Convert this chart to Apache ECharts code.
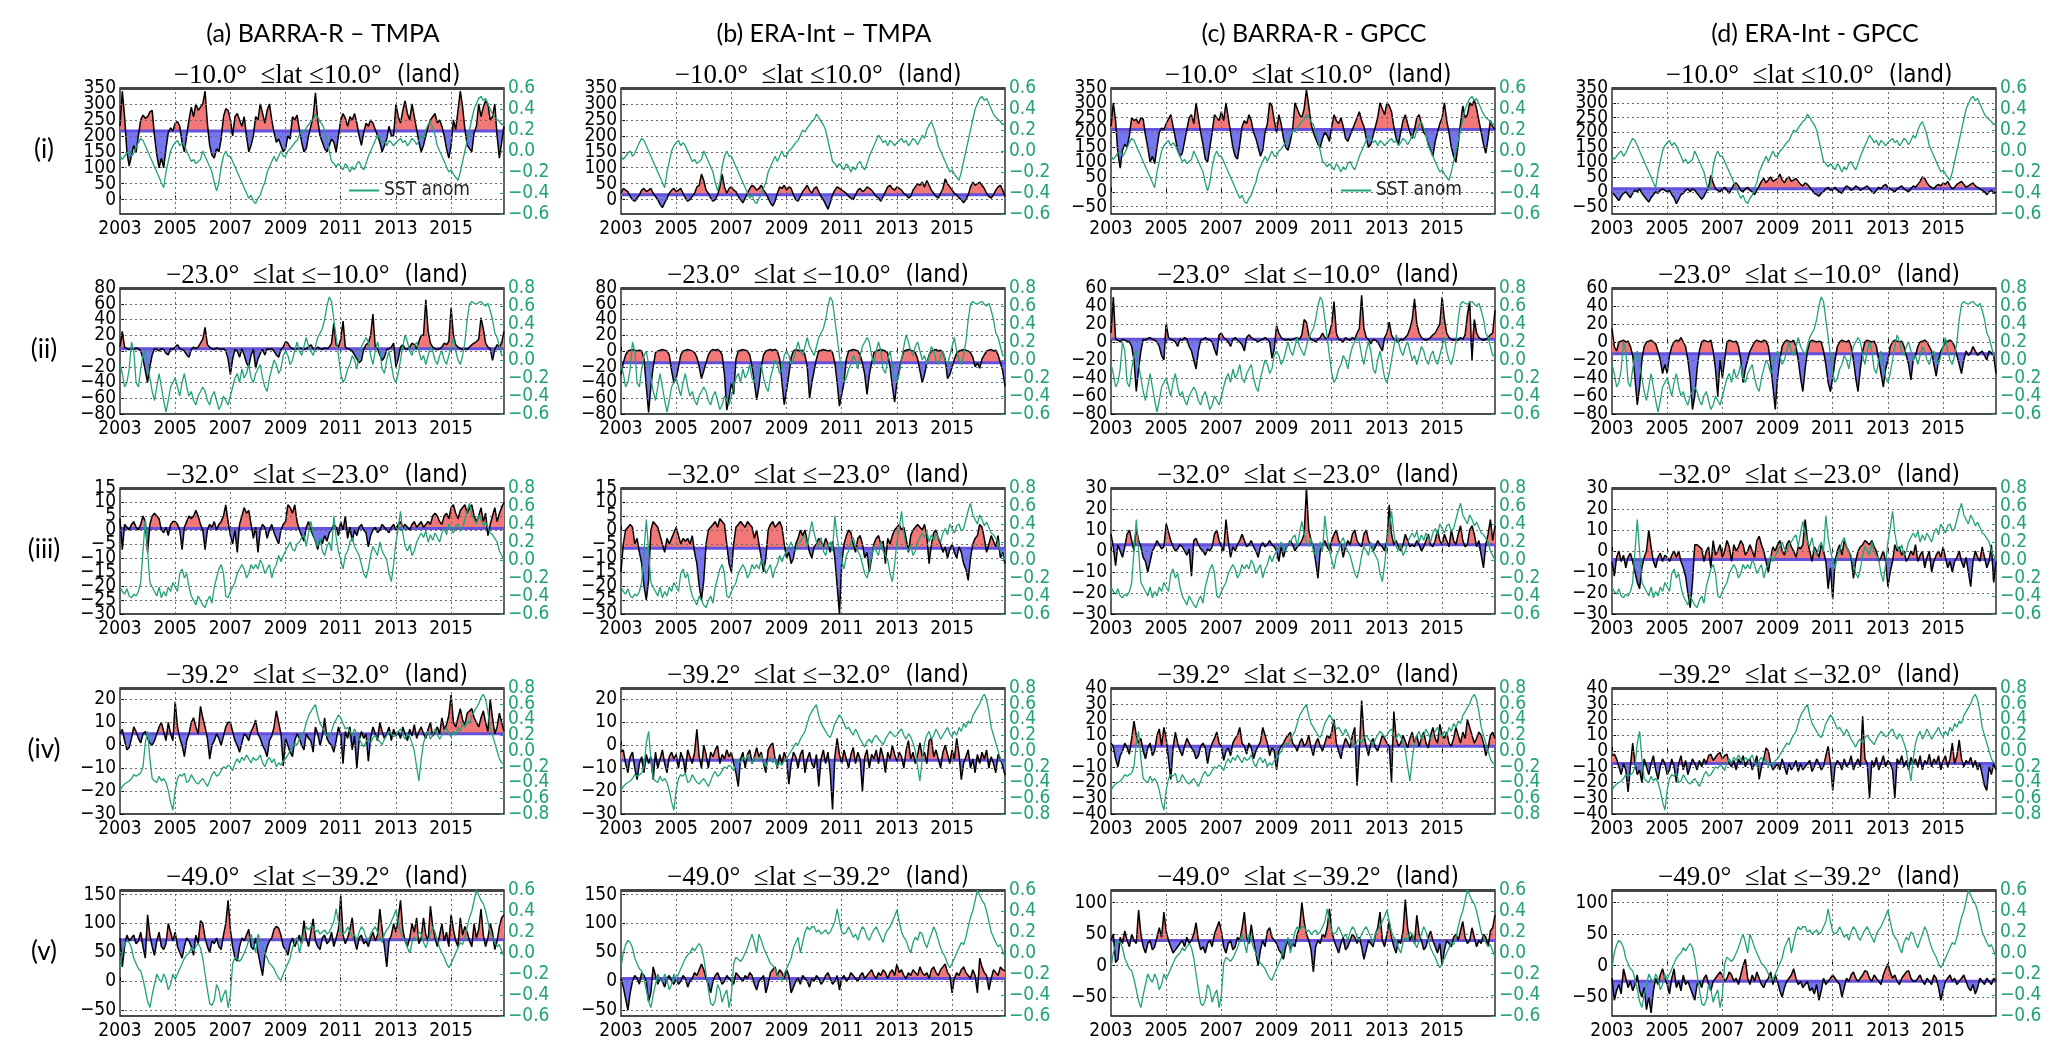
<!DOCTYPE html>
<html><head><meta charset="utf-8">
<script src="https://cdn.jsdelivr.net/npm/echarts@6/dist/echarts.min.js"></script>
<style>html,body{margin:0;padding:0;background:#fff}#c{width:2067px;height:1058px}</style>
</head><body><div id="c"></div>
<script>
// ---------------- DATA ----------------
const startYear = 2003;
const xTicks = [2003, 2005, 2007, 2009, 2011, 2013, 2015];
const colTitles = ['(a) BARRA-R – TMPA', '(b) ERA-Int – TMPA', '(c) BARRA-R - GPCC', '(d) ERA-Int - GPCC'];
const rowLabels = ['(i)', '(ii)', '(iii)', '(iv)', '(v)'];
const latBands = ['−10.0°  ≤lat ≤10.0°', '−23.0°  ≤lat ≤−10.0°', '−32.0°  ≤lat ≤−23.0°', '−39.2°  ≤lat ≤−32.0°', '−49.0°  ≤lat ≤−39.2°'];
const legendLabel = 'SST anom';

// left-axis tick labels per row: [cols a,b] and [cols c,d]
const ticks1ab = [0, 50, 100, 150, 200, 250, 300, 350];
const ticks1cd = [-50, 0, 50, 100, 150, 200, 250, 300, 350];
const ticks2ab = [-80, -60, -40, -20, 0, 20, 40, 60, 80];
const ticks2cd = [-80, -60, -40, -20, 0, 20, 40, 60];
const ticks3ab = [-30, -25, -20, -15, -10, -5, 0, 5, 10, 15];
const ticks3cd = [-30, -20, -10, 0, 10, 20, 30];
const ticks4ab = [-30, -20, -10, 0, 10, 20];
const ticks4cd = [-40, -30, -20, -10, 0, 10, 20, 30, 40];
const ticks5ab = [-50, 0, 50, 100, 150];
const ticks5cd = [-50, 0, 50, 100];
// right-axis (SST anomaly) tick labels per row
const sstTicks1 = [-0.6, -0.4, -0.2, 0.0, 0.2, 0.4, 0.6];
const sstTicks2 = [-0.6, -0.4, -0.2, 0.0, 0.2, 0.4, 0.6, 0.8];
const sstTicks3 = [-0.6, -0.4, -0.2, 0.0, 0.2, 0.4, 0.6, 0.8];
const sstTicks4 = [-0.8, -0.6, -0.4, -0.2, 0.0, 0.2, 0.4, 0.6, 0.8];
const sstTicks5 = [-0.6, -0.4, -0.2, 0.0, 0.2, 0.4, 0.6];

// mean (reference) level of each panel, rows i..v, cols a..d
const meanLevels = [[215, 15, 210, 10], [3, -15, 3, -13], [0.5, -6.5, 3, -4], [5, -6.5, 3, -8], [72, 5, 40, -25]];

// monthly values Jan 2003 .. Dec 2016
const p1a = [230,340,260,150,105,140,170,150,200,250,265,255, 260,275,280,200,140,100,130,100,160,210,225,215, 240,245,230,180,150,200,250,290,260,300,280,290, 300,340,240,170,140,130,160,150,190,260,285,280, 250,200,260,270,250,230,260,200,150,170,200,260, 250,300,270,240,280,300,250,210,180,190,170,150, 160,200,190,260,250,265,220,180,150,160,200,230, 260,335,250,200,180,160,150,170,190,180,150,200, 250,270,255,230,260,250,270,240,200,170,210,240, 230,250,240,220,200,180,150,170,190,230,200,200, 300,260,240,280,310,270,250,300,260,220,180,150, 170,200,230,250,260,270,240,250,230,200,160,130, 170,250,220,280,340,290,220,170,160,150,210,230, 300,260,290,310,300,250,260,300,200,130,180,230];
const p1b = [20,35,30,25,10,0,-5,5,15,30,35,25, 30,35,20,10,0,-15,-25,-10,5,20,30,35, 25,30,35,20,5,-5,0,10,20,40,45,80, 60,30,20,5,-5,0,15,40,80,40,20,35, 40,30,25,10,0,-10,5,20,35,45,40,30, 35,45,30,20,5,-10,-20,-5,20,40,35,45, 30,40,35,15,0,-5,10,25,35,45,30,20, 35,40,25,10,0,-15,-30,-10,15,30,40,35, 30,25,20,10,5,0,15,30,35,25,30,40, 35,30,20,10,5,-5,10,25,40,45,35,30, 40,35,30,20,15,5,10,30,40,50,45,55, 40,60,45,30,20,10,5,20,35,65,50,40, 30,20,15,5,0,-10,0,15,40,55,45,50, 55,45,35,20,10,5,15,30,40,45,30,10];
const p1c = [220,300,240,130,80,140,160,150,190,250,240,245, 230,250,245,190,150,100,120,95,150,200,215,210, 230,245,260,220,180,140,120,130,170,210,250,260, 230,300,250,200,160,110,100,150,200,260,250,240, 270,240,300,250,200,150,120,110,160,220,240,230, 260,240,200,180,150,120,140,200,230,300,290,240, 200,260,230,180,150,140,170,210,300,280,260,250, 280,345,290,230,200,180,160,150,180,200,190,170, 220,260,240,230,250,220,180,170,190,210,230,250, 270,240,220,180,150,160,190,220,250,300,280,260, 300,290,270,220,180,160,200,240,260,230,200,180, 210,250,260,230,200,190,160,140,120,170,200,230, 250,300,240,200,150,120,100,160,230,290,250,260, 300,290,310,280,240,200,160,130,180,240,220,210];
const p1d = [0,-10,-20,-30,-15,-5,0,-10,-20,-5,5,0, 10,-5,-15,-25,-35,-20,-10,0,-5,5,10,5, 0,5,-10,-20,-40,-25,-10,-5,5,10,0,10, 5,-5,-15,-25,-15,0,15,55,30,10,5,0, 10,15,5,-5,10,25,30,20,5,0,10,15, 5,0,-10,5,20,35,45,30,40,50,35,40, 45,60,40,30,45,50,35,40,45,35,25,20, 30,25,15,5,-5,-10,-15,-5,0,10,15,5, 10,15,5,0,-5,10,20,15,5,10,20,15, 5,10,15,20,10,0,-5,5,15,10,20,25, 15,10,5,0,10,15,20,10,5,0,10,20, 15,25,35,50,45,30,20,15,10,20,25,20, 30,25,35,20,10,15,25,30,35,25,15,20, 25,30,20,15,10,5,0,-10,0,5,-5,0];

const p2a = [5,25,5,3,2,3,2,4,3,0,-10,-25, -40,-20,-5,3,2,0,3,2,-3,-5,3,2, 5,8,3,2,0,-5,-8,2,5,3,5,10, 15,30,8,5,3,2,4,3,2,3,0,-10, -30,-10,2,0,-8,3,-5,-15,-20,-5,2,-22, -10,-3,2,-5,3,2,3,0,-5,-8,2,5, 12,10,5,3,2,3,4,3,2,3,5,8, 3,2,5,3,2,4,3,5,10,35,8,5, 15,38,5,3,2,0,-5,-10,-15,-12,2,8, 10,20,47,5,3,-5,-12,-8,2,3,5,10, -20,-10,5,8,3,2,5,10,8,3,12,20, 20,65,25,10,5,3,2,3,5,10,8,12, 55,20,8,5,3,2,3,2,5,8,10,12, 15,42,28,10,5,3,-12,2,8,5,10,25];
const p2b = [-30,-15,-5,0,1,2,1,0,1,0,-10,-45, -78,-45,-20,-2,0,1,2,1,0,-5,-25,-40, -35,-20,-5,0,1,2,1,0,-2,-8,-20,-35, -25,-15,-5,0,2,1,2,0,-5,-30,-75,-60, -40,-55,-10,0,1,2,1,0,-5,-20,-40,-62, -45,-20,-5,0,1,2,1,2,0,-10,-40,-68, -50,-30,-8,0,2,1,0,1,-5,-20,-60,-40, -25,-10,0,1,2,1,0,1,-2,-15,-40,-70, -55,-40,-10,0,1,2,1,0,-5,-15,-30,-55, -30,-15,-2,0,1,2,1,0,-3,-20,-45,-65, -40,-25,-10,0,1,2,1,0,-2,-10,-25,-40, -30,-15,-5,0,1,2,0,1,-2,-10,-35,-30, -20,-10,-3,0,1,2,1,0,-2,-8,-20,-15, -22,-10,-5,0,1,2,0,1,-5,-15,-25,-45];
const p2c = [10,50,3,2,0,3,2,1,0,-5,-20,-55, -30,-10,3,2,4,5,3,2,0,-5,-15,-20, 20,5,3,2,0,-5,3,2,5,3,-5,-10, -20,-30,-10,2,3,5,3,2,0,-8,-15,8, 10,5,3,0,-5,3,5,2,0,-3,-10,5, 8,5,3,2,0,2,3,5,3,0,-18,-8, 18,10,5,3,2,3,2,3,4,5,3,8, 25,22,8,3,2,0,3,5,10,5,3,10, 20,45,10,3,2,0,5,3,2,5,3,10, 15,52,15,5,3,-2,3,2,0,-5,-10,5, 10,22,8,3,2,0,3,2,5,8,15,25, 48,20,10,5,3,2,3,5,8,10,15,20, 50,25,10,5,3,2,3,2,5,3,8,30, 45,-20,25,10,5,3,2,3,5,8,10,35];
const p2d = [15,-5,-10,0,1,2,0,1,-5,-15,-40,-70, -50,-20,-5,0,1,2,0,-2,-10,-20,-35,-25, -35,-15,-5,0,2,1,5,0,-5,-20,-40,-75, -60,-30,-10,0,2,1,0,2,-10,-30,-60,-20, -40,-20,0,2,1,0,1,-5,-20,-45,-30,-20, -10,-5,0,2,1,0,2,1,-5,-25,-50,-75, -40,-20,-5,0,2,1,0,2,-5,-20,-40,-55, -30,-10,0,2,1,0,1,0,-10,-25,-45,-55, -40,-20,-5,0,2,1,0,2,-5,-20,-40,-55, -30,-10,0,2,1,0,1,-5,-20,-35,-50,-30, -20,-5,0,2,1,0,1,-5,-15,-25,-42,-20, -15,-5,0,1,2,0,-5,-10,-25,-38,-20,-10, -5,0,1,2,0,-5,-15,-25,-35,-20,-10,-15, -12,-5,-10,-15,-12,-10,-15,-20,-10,-12,-15,-35];

const p3a = [4,-7,2,1,0,2,3,1,0,2,5,3, -8,2,5,6,5,4,0,-1,1,-2,2,3, 3,2,0,-7,1,3,5,4,5,7,5,2, 0,-7,0,2,1,3,0,2,3,5,9,3, -2,-5,0,-8,2,5,8,6,7,2,-3,1, -8,0,2,1,-3,0,2,-1,-3,-5,0,2, 3,9,8,6,9,3,0,-2,-4,1,3,0, -2,-4,-7,-3,-5,-2,-4,-1,0,2,1,-2, 3,0,5,-3,1,-4,0,-2,1,2,0,-1, -6,-2,0,1,-1,0,2,1,0,-1,1,2, 0,2,3,1,2,1,0,2,3,1,2,3, 1,2,3,2,5,6,5,3,2,5,6,4, 8,9,6,4,7,8,9,6,8,9,5,3, 5,8,3,6,-2,2,5,8,3,6,8,10];
const p3b = [-15,-5,0,1,2,1,-5,-3,-8,-12,-20,-25, -18,0,3,2,1,-2,-5,-8,-3,-5,-3,-1, 1,-2,-5,-3,-4,-3,-5,-2,-8,-12,-20,-25, -18,-5,0,1,2,3,1,4,3,2,-5,-12, -15,-5,1,2,3,2,1,3,2,1,-3,0, -5,-10,-15,-10,0,2,3,1,2,3,1,-5, -10,-8,-12,-10,-5,-3,0,-2,0,-4,-8,-10, -6,-5,-3,-4,-6,-3,-5,-8,-4,-10,-20,-30, -12,-5,-2,0,-1,-5,-8,-3,-2,-5,-10,-8, -15,-10,-5,-3,-2,-5,-4,-12,-3,-5,-2,0, 1,2,0,1,-3,-8,-2,0,1,2,1,0, 2,-2,-12,-5,-1,0,-3,-5,-8,-6,-10,-7, -5,-8,-10,-6,-8,-12,-14,-18,-10,-5,-3,-2, 2,1,-3,-8,-5,-2,-4,-6,-2,-10,-8,-12];
const p3c = [8,2,-7,3,0,-3,2,8,10,5,0,11, 5,2,-3,-5,-10,-5,0,2,5,3,1,2, 13,9,5,2,0,1,3,2,0,-2,1,-12, 5,6,3,1,0,-2,1,0,2,8,10,5, 2,0,15,5,-3,2,0,3,5,8,5,2, 3,5,2,0,-3,2,4,2,3,5,3,2, 0,-5,2,-3,1,3,5,3,0,2,3,5, 8,30,10,5,2,-5,-13,0,3,5,2,0, 5,8,10,5,3,-3,2,5,3,8,10,5, 3,2,8,10,5,3,0,2,5,3,2,0, 5,22,8,3,5,2,0,3,8,5,2,3, 2,5,3,0,2,5,8,3,2,5,10,5, 3,8,5,2,10,5,3,8,12,5,2,3, 10,12,8,2,5,-2,-8,3,8,15,5,12];
const p3d = [-5,-12,-3,0,-5,-2,-8,-3,-1,-5,-10,-15, -18,-8,-3,0,10,2,-5,-8,-3,-1,-5,-2, -3,-5,-2,0,-3,0,-5,-8,-12,-20,-27,-15, 3,3,2,1,-5,0,2,-8,5,-2,0,3, -3,0,5,2,-5,3,0,2,5,3,-2,0, 3,0,-3,5,7,3,0,-5,-10,-3,2,0, 3,5,0,-2,3,5,2,0,-3,2,1,3, 15,5,0,-5,2,0,-3,3,0,-5,-18,-8, -23,-5,0,3,-2,5,2,0,-3,-13,-5,0, 2,3,5,4,3,5,2,0,-5,-3,0,-5, -17,-10,-5,3,0,2,-2,0,-5,-3,0,-2, 3,-5,-2,0,-8,-3,0,-10,-5,-2,0,-3, 2,-3,-8,-5,-10,-5,-3,0,-5,-8,-3,-10, -17,-5,0,-3,-5,2,-3,-8,-5,3,-15,-5];

const p4a = [5,7,2,-2,-1,3,8,6,3,1,5,6, 3,1,0,2,5,8,10,6,2,10,5,2, 19,8,3,0,-5,2,5,10,12,8,5,17, 12,8,3,-6,0,2,5,3,0,4,8,10, 10,6,2,0,-3,1,5,4,2,6,8,11, 5,3,0,-2,-5,2,4,8,15,10,5,-9, 3,0,-3,-5,2,5,3,0,-2,5,3,2, -3,8,5,0,4,12,3,1,0,-3,2,8, 5,-8,6,3,8,-2,4,-10,2,6,3,5, -7,3,8,5,2,10,6,3,5,8,2,7, 4,6,3,8,5,2,7,4,9,3,6,8, 5,3,7,10,4,6,8,5,12,7,9,13, 22,10,8,12,16,11,9,14,15,16,12,10, 8,12,15,10,6,20,12,5,8,14,10,6];
const p4b = [-3,-2,-8,-12,-5,-3,-10,-15,-8,-5,-12,-4, -8,-5,-15,-3,-10,-6,-2,-8,-12,-5,-3,-6, -4,-10,-3,-6,-12,-2,-5,-8,-3,7,-5,-10, 0,-4,-10,-3,-5,-2,0,-8,-4,-6,-2,-5, -3,-8,-12,-18,-6,-3,-10,-4,-2,-8,-5,-1, -5,-3,-8,-12,-2,0,1,-6,-10,-4,-8,-3, -6,-17,-8,-3,-5,-10,-4,-2,-12,-6,-3,-8, -10,-4,-18,-6,-2,-8,-3,-12,-28,-5,3,-4, -8,-2,-6,-10,-4,-1,-8,-3,-6,-20,-5,-2, -10,-4,-6,-2,-8,-1,-5,-12,-3,-6,0,-4, -7,-3,-5,-10,-2,2,-6,-3,-8,-4,1,-5, -3,-8,2,3,-5,-2,-6,-10,-3,0,-4,-8, -2,-6,3,-4,-15,-8,-5,-2,-10,-6,-12,-4, -8,-3,-6,-2,-10,-5,-8,-12,-4,-6,-9,-13];
const p4c = [5,3,-5,-10,-3,0,5,2,-2,8,19,10, 5,8,0,-5,2,5,-3,0,10,14,3,15, 8,-5,-18,2,12,5,0,-3,3,8,5,2, 0,-5,-3,3,5,2,-8,0,5,8,12,5, 3,-6,0,2,-3,5,8,10,15,5,3,-2, 5,2,-5,0,3,6,15,10,5,-3,2,0, -12,0,3,5,8,10,12,5,3,0,5,8, 3,5,10,2,-3,5,8,3,0,5,10,8, 12,20,5,0,-5,3,8,5,2,10,15,-22, 0,32,10,3,-3,5,8,2,0,5,10,8, 5,3,-20,25,8,3,5,10,6,2,8,12, 5,10,3,8,12,5,2,10,15,8,5,17, 10,8,12,5,3,8,15,10,5,12,8,20, 15,10,5,8,12,10,5,-3,2,10,12,8];
const p4d = [-3,-2,-5,-10,-15,-8,-12,-26,-10,5,-8,-15, -12,-20,-5,-10,-15,-8,-3,-12,-18,-10,-5,-8, -15,-12,-5,-10,-20,-8,-3,-12,-6,-15,-10,-5, -8,-12,-6,-10,-5,-8,-3,-2,-6,-4,-2,-1, -5,-3,-2,-8,-10,-6,-12,-5,-8,-3,-10,-6, -5,-12,-8,-3,-18,-10,-5,2,0,-8,-12,-10, -8,-12,-5,-10,-15,-8,-12,-10,-6,-13,-8,-12, -10,-8,-6,-13,-10,-5,-8,-12,-10,-3,3,-8, -25,-10,-6,-8,-12,-5,-10,-8,-3,-12,-8,-5, -10,22,-5,-8,-30,-6,-10,-4,-12,-8,-3,-10, -6,-8,-12,-30,-5,-8,-3,-10,-6,-12,-4,-8, -5,-10,-3,-12,-6,-8,-2,-10,-5,-8,-3,-12, -6,-3,-10,-5,5,-8,-3,7,-5,-10,-6,-8, -4,-10,-6,-12,-8,-15,-22,-25,-10,-15,-8,-12];

const p5a = [75,25,60,80,70,75,80,65,70,85,60,40, 115,80,60,45,70,85,60,55,65,100,85,70, 85,60,50,40,60,75,70,60,45,80,65,105, 100,75,60,50,70,65,75,60,55,80,100,140, 90,60,40,35,60,75,70,80,90,60,55,75, 50,30,10,45,60,70,75,90,95,92,80,60, 55,45,65,75,60,70,80,65,105,75,60,85, 108,70,60,55,75,80,65,70,85,60,75,90, 148,80,65,75,90,110,70,55,75,80,65,70, 60,75,85,70,80,125,90,60,25,70,80,100, 85,110,140,90,70,60,75,100,85,110,65,75, 110,80,70,130,95,75,60,80,100,70,85,60, 115,90,70,60,110,80,95,85,70,60,100,75, 90,125,80,60,75,100,85,55,70,95,110,115];
const p5b = [5,-10,-30,-50,-20,0,10,5,-5,15,10,0, -35,-20,25,10,-5,5,0,-10,5,10,0,-5, 5,-5,0,10,5,-10,0,5,15,10,20,30, 20,5,-5,-20,0,10,15,5,-5,0,10,5, 0,-5,15,10,5,0,10,5,15,10,-5,-15, 0,5,10,-20,-5,15,20,25,10,20,15,5, 20,10,-20,-10,0,5,-5,10,5,0,-10,5, 0,10,5,-5,0,10,15,5,-5,0,10,-15, 5,10,0,5,15,10,5,0,10,15,5,10, 15,20,10,5,15,10,20,15,5,15,20,10, 30,15,20,10,5,15,10,20,15,10,25,15, 10,15,5,20,25,15,10,20,25,30,15,10, -20,5,15,10,20,25,15,10,5,20,10,-20, 40,25,15,10,-15,5,20,15,10,25,20,18];
const p5c = [40,50,5,10,45,35,55,40,30,50,40,35, 88,50,30,20,35,40,25,30,45,60,45,85, 55,40,30,20,25,30,35,40,30,45,35,40, 50,68,40,25,30,20,35,40,30,50,60,70, 55,30,20,35,40,25,30,45,40,60,85,45, 35,65,40,20,0,25,40,30,55,60,45,40, 35,25,20,10,30,40,25,35,30,50,60,100, 70,50,40,25,-10,30,40,35,50,45,60,90, 55,40,30,20,35,45,25,30,40,50,45,35, 45,30,10,25,40,35,30,50,60,85,40,30, 50,70,45,30,20,40,35,55,105,60,40,50, 35,80,50,40,25,30,45,55,40,30,20,35, 0,25,40,35,30,45,50,40,55,70,45,35, 40,60,45,30,40,35,50,45,30,55,60,80];
const p5d = [-20,-55,-40,-30,-45,-5,-20,-35,-25,-40,-30,-15, -40,-50,-35,-70,-50,-75,-40,-20,-30,-15,-5,-20, -30,-45,-20,-5,-35,-25,-40,-15,-30,-25,-35,-45, -55,-30,-25,-35,-20,-15,-30,-40,-25,-20,-15,-10, -15,-25,-20,-10,-15,-25,-20,-30,-15,0,10,-20, -30,-15,-25,-10,-20,-30,-35,-25,-20,-10,-30,-15, -25,-40,-50,-35,-25,-20,-15,-5,-20,-30,-25,-35, -30,-25,-40,-35,-45,-30,-55,-40,-20,-30,-25,-20, -15,-20,-25,-30,-50,-35,-20,-25,-15,-10,-20,-25, -20,-15,-8,-10,-20,-25,-15,-20,-25,-30,-15,-5, 3,-10,-20,-15,-25,-30,-20,-15,-10,-8,-20,-25, -25,-20,-15,-25,-30,-20,-25,-30,-15,-20,-35,-55, -40,-25,-20,-15,-25,-20,-30,-25,-20,-15,-25,-35, -40,-30,-45,-35,-20,-25,-30,-20,-25,-30,-20,-25];

// SST anomaly (right axis), one series per latitude band
const sst1 = [-0.05,-0.08,-0.05,-0.02,0.0,-0.05,-0.02,0.03,0.08,0.12,0.1,0.05, 0.0,-0.05,-0.1,-0.15,-0.2,-0.25,-0.3,-0.35,-0.2,-0.1,0.0,0.05, 0.08,0.1,0.05,0.08,0.05,0.0,-0.05,-0.1,-0.08,-0.12,-0.1,-0.08, 0.0,-0.05,-0.1,-0.15,-0.2,-0.3,-0.38,-0.3,-0.15,-0.05,0.0,-0.05, -0.05,-0.1,-0.15,-0.2,-0.25,-0.3,-0.35,-0.4,-0.45,-0.42,-0.48,-0.5, -0.45,-0.42,-0.35,-0.3,-0.2,-0.15,-0.1,-0.05,-0.1,-0.05,0.0,-0.05, -0.05,0.0,0.02,0.05,0.08,0.1,0.15,0.2,0.18,0.22,0.25,0.28, 0.3,0.35,0.32,0.28,0.25,0.2,0.1,0.0,-0.1,-0.12,-0.15,-0.12, -0.15,-0.18,-0.12,-0.15,-0.2,-0.15,-0.18,-0.12,-0.1,-0.15,-0.18,-0.12, -0.05,0.0,0.05,0.1,0.15,0.12,0.08,0.1,0.05,0.1,0.08,0.05, 0.08,0.1,0.12,0.08,0.1,0.05,0.08,0.12,0.1,0.06,0.1,0.15, 0.12,0.2,0.25,0.28,0.22,0.15,0.05,0.0,-0.05,-0.1,-0.15,-0.2, -0.18,-0.22,-0.25,-0.28,-0.2,-0.1,0.0,0.1,0.2,0.3,0.4,0.45, 0.5,0.52,0.48,0.5,0.45,0.4,0.35,0.32,0.3,0.28,0.25,0.27];
const sst2 = [-0.05,-0.15,-0.3,-0.25,-0.1,0.2,0.1,-0.25,-0.3,-0.1,0.05,0.1, -0.05,-0.2,-0.35,-0.45,-0.3,-0.15,-0.3,-0.45,-0.58,-0.45,-0.3,-0.25, -0.2,-0.3,-0.4,-0.25,-0.15,-0.3,-0.4,-0.35,-0.45,-0.5,-0.4,-0.35, -0.3,-0.35,-0.45,-0.5,-0.4,-0.35,-0.45,-0.55,-0.5,-0.4,-0.45,-0.5, -0.4,-0.3,-0.2,-0.15,-0.25,-0.1,-0.2,-0.15,-0.05,-0.2,-0.25,-0.15, -0.1,-0.05,-0.2,-0.3,-0.35,-0.2,-0.1,0.0,-0.05,-0.15,-0.1,0.05, 0.1,0.05,-0.05,0.0,0.1,0.2,0.1,0.05,0.15,0.25,0.15,0.1, 0.05,0.15,0.25,0.3,0.35,0.45,0.6,0.7,0.65,0.45,0.25,0.05, -0.15,-0.25,-0.2,-0.1,-0.05,0.05,0.0,-0.1,0.05,0.15,0.2,0.25, 0.2,0.05,-0.05,0.1,0.2,0.1,-0.1,-0.15,0.0,0.1,-0.05,-0.2, -0.25,-0.15,0.0,0.15,0.28,0.2,0.1,0.05,0.15,0.2,0.1,0.0, 0.05,-0.05,0.05,0.15,0.1,0.0,-0.05,0.05,0.1,0.0,-0.05,0.05, 0.15,0.25,0.1,0.0,-0.05,0.05,0.2,0.45,0.62,0.65,0.63,0.62, 0.64,0.65,0.62,0.6,0.63,0.55,0.45,0.3,0.25,0.15,0.05,0.05];
const sst3 = [-0.3,-0.35,-0.38,-0.32,-0.4,-0.42,-0.38,-0.4,-0.35,-0.25,0.1,0.45, 0.1,-0.25,-0.3,-0.35,-0.4,-0.3,-0.42,-0.35,-0.4,-0.3,-0.35,-0.25, -0.3,-0.35,-0.15,-0.1,-0.2,-0.15,-0.3,-0.4,-0.45,-0.5,-0.4,-0.45, -0.5,-0.53,-0.45,-0.4,-0.48,-0.3,-0.2,-0.1,-0.05,-0.15,-0.4,-0.42, -0.35,-0.3,-0.25,-0.15,-0.1,-0.05,-0.1,-0.2,-0.15,-0.05,-0.1,-0.05, -0.1,0.0,-0.05,-0.15,-0.1,-0.05,-0.2,-0.1,-0.05,0.05,-0.02,0.05, 0.1,0.15,0.2,0.12,0.1,0.18,0.2,0.25,0.28,0.15,0.3,0.43, 0.3,0.2,0.15,0.25,0.1,0.05,0.15,0.2,0.1,0.49,0.25,0.1, 0.0,-0.1,0.05,0.1,0.2,0.25,0.15,0.1,0.05,-0.05,-0.15,-0.2, -0.1,0.05,0.15,0.1,0.05,0.2,0.1,0.05,0.0,-0.15,-0.24,-0.05, 0.2,0.35,0.54,0.3,0.15,0.1,0.17,0.05,0.1,0.2,0.25,0.3, 0.25,0.32,0.2,0.28,0.22,0.3,0.25,0.2,0.3,0.35,0.28,0.4, 0.35,0.3,0.38,0.4,0.32,0.35,0.45,0.55,0.63,0.5,0.45,0.4, 0.5,0.45,0.38,0.42,0.36,0.3,0.28,0.24,0.2,0.1,0.05,0.0];
const sst4 = [-0.5,-0.45,-0.42,-0.4,-0.38,-0.35,-0.3,-0.32,-0.3,-0.28,-0.2,0.1, 0.25,-0.1,-0.35,-0.38,-0.4,-0.32,-0.38,-0.35,-0.4,-0.5,-0.65,-0.75, -0.5,-0.35,-0.3,-0.32,-0.28,-0.4,-0.38,-0.3,-0.35,-0.4,-0.42,-0.38, -0.35,-0.4,-0.45,-0.38,-0.3,-0.26,-0.32,-0.3,-0.25,-0.2,-0.22,-0.18, -0.2,-0.25,-0.15,-0.1,-0.15,-0.08,-0.12,-0.05,-0.1,-0.15,-0.08,-0.12, -0.1,-0.05,-0.15,-0.2,-0.12,-0.08,-0.15,-0.1,-0.2,-0.15,-0.18,-0.12, -0.1,-0.05,0.0,0.05,0.1,0.08,0.15,0.2,0.25,0.35,0.45,0.5, 0.55,0.59,0.45,0.35,0.3,0.25,0.2,0.17,0.25,0.35,0.4,0.46, 0.42,0.35,0.28,0.3,0.25,0.2,0.28,0.22,0.15,0.1,0.05,0.12, 0.15,0.1,0.17,0.2,0.15,0.12,0.08,0.15,0.2,0.25,0.22,0.18, 0.2,0.25,0.28,0.2,0.15,0.22,0.18,0.1,0.0,-0.2,-0.38,-0.1, 0.1,0.2,0.25,0.15,0.2,0.28,0.22,0.15,0.2,0.25,0.3,0.22, 0.18,0.25,0.2,0.3,0.25,0.35,0.3,0.38,0.35,0.45,0.5,0.55, 0.6,0.68,0.72,0.65,0.5,0.3,0.2,0.1,0.0,-0.1,-0.15,-0.17];
const sst5 = [-0.14,0.0,0.08,0.12,0.1,0.05,-0.05,-0.1,-0.15,-0.17,-0.25,-0.35, -0.46,-0.52,-0.4,-0.3,-0.2,-0.25,-0.28,-0.2,-0.25,-0.35,-0.3,-0.2, -0.25,-0.2,-0.15,-0.1,-0.05,-0.02,0.0,0.05,0.02,0.06,0.09,0.05, -0.05,-0.2,-0.35,-0.48,-0.5,-0.45,-0.3,-0.35,-0.47,-0.4,-0.35,-0.52, -0.4,-0.1,-0.04,-0.06,-0.08,-0.05,0.0,0.05,0.12,0.18,0.1,0.0, 0.18,0.12,0.05,0.0,-0.05,-0.1,-0.12,-0.15,-0.2,-0.24,-0.26,-0.2, -0.15,-0.1,-0.05,0.05,0.1,0.15,0.0,0.1,0.2,0.25,0.22,0.25, 0.25,0.2,0.22,0.18,0.2,0.22,0.18,0.2,0.25,0.3,0.42,0.3, 0.2,0.18,0.2,0.25,0.2,0.15,0.18,0.12,0.2,0.25,0.22,0.15, 0.12,0.18,0.22,0.25,0.2,0.15,0.1,0.18,0.22,0.25,0.3,0.35, 0.41,0.3,0.2,0.15,0.12,0.05,0.0,0.1,0.15,0.12,0.2,0.18, 0.1,0.05,0.12,0.18,0.25,0.2,0.12,0.05,0.0,-0.04,-0.1,-0.14, -0.1,-0.05,0.0,0.05,0.1,0.08,0.15,0.25,0.34,0.4,0.5,0.6, 0.55,0.5,0.47,0.4,0.3,0.2,0.15,0.1,0.06,0.08,0.02,-0.04];

// ---------------- LAYOUT / STYLE ----------------
const panels = [[p1a, p1b, p1c, p1d], [p2a, p2b, p2c, p2d], [p3a, p3b, p3c, p3d], [p4a, p4b, p4c, p4d], [p5a, p5b, p5c, p5d]];
const sstRows = [sst1, sst2, sst3, sst4, sst5];
const leftTicks = [[ticks1ab, ticks1cd], [ticks2ab, ticks2cd], [ticks3ab, ticks3cd], [ticks4ab, ticks4cd], [ticks5ab, ticks5cd]];
const rightTicks = [sstTicks1, sstTicks2, sstTicks3, sstTicks4, sstTicks5];
const leftRange = [[[-45, 350], [-75, 350]], [[-80, 80], [-80, 60]], [[-30, 15], [-30, 30]], [[-30, 25], [-40, 40]], [[-60, 158], [-80, 120]]];
const rightRange = [[-0.6, 0.6], [-0.6, 0.8], [-0.6, 0.8], [-0.8, 0.8], [-0.6, 0.6]];
const colLeft = [120, 621, 1111, 1612];
const rowTop = [88, 288, 488, 688, 890];
const plotW = 384, plotH = 126;
const GREEN = '#23a27a', RED = '#f27878', BLUE = '#7676f0', MEAN = '#6450dc';
const tickFont = "'DejaVu Sans Condensed', 'DejaVu Sans', sans-serif";
const TICK_FS = 19;

const minus = v => (v < 0 ? '\u2212' : '') + Math.abs(v);
const minus1 = v => (v < -1e-9 ? '\u2212' : '') + Math.abs(v).toFixed(1);
const evens = a => a.filter((_, i) => i % 2 === 0);
const odds = a => a.filter((_, i) => i % 2 === 1);

function splitFill(pts, m) {
  const up = [], dn = [];
  for (let i = 0; i < pts.length; i++) {
    const [x, y] = pts[i];
    up.push([x, Math.max(y, m)]); dn.push([x, Math.min(y, m)]);
    if (i < pts.length - 1) {
      const [x2, y2] = pts[i + 1];
      if ((y - m) * (y2 - m) < 0) {
        const t = (m - y) / (y2 - y);
        const xc = x + t * (x2 - x);
        up.push([xc, m]); dn.push([xc, m]);
      }
    }
  }
  return [up, dn];
}

// one value axis carrying a subset of the tick labels (labels are split over two
// coincident axes so that ECharts' overlap culling keeps every label)
function valueAxis(k, pos, range, labels, ticks, fmt, color) {
  return { type: 'value', gridIndex: k, position: pos, offset: 0, min: range[0], max: range[1],
    axisLabel: { customValues: labels, formatter: fmt, fontSize: TICK_FS, color: color, fontFamily: tickFont, margin: 4, showMinLabel: true, showMaxLabel: true, hideOverlap: false },
    axisTick: ticks ? { customValues: ticks, inside: true, length: 4, lineStyle: { color: color } } : { show: false },
    axisLine: { show: false }, splitLine: { show: false } };
}

const grids = [], xAxes = [], yAxes = [], series = [], titles = [], warnings = [];
let k = 0;
for (let r = 0; r < 5; r++) {
  for (let c = 0; c < 4; c++) {
    const vals = panels[r][c];
    const sst = sstRows[r];
    if (vals.length !== 168) warnings.push('p' + (r + 1) + 'abcd'[c] + ':' + vals.length);
    if (sst.length !== 168 && c === 0) warnings.push('sst' + (r + 1) + ':' + sst.length);
    const pts = vals.map((v, i) => [startYear + i / 12, v]);
    const spts = sst.map((v, i) => [startYear + i / 12, v]);
    const xmax = startYear + (vals.length - 1) / 12;
    const lr = leftRange[r][c < 2 ? 0 : 1];
    const lt = leftTicks[r][c < 2 ? 0 : 1];
    const rr = rightRange[r];
    const rt = rightTicks[r];
    const m = meanLevels[r][c];
    grids.push({ left: colLeft[c], top: rowTop[r], width: plotW, height: plotH, show: true, borderColor: '#111', borderWidth: 1.3, backgroundColor: 'transparent' });
    xAxes.push({ type: 'value', gridIndex: k, min: startYear, max: xmax,
      axisLabel: { customValues: xTicks, formatter: v => String(Math.round(v)), fontSize: TICK_FS, color: '#000', fontFamily: tickFont, margin: 6, showMinLabel: true, showMaxLabel: true, hideOverlap: false },
      axisTick: { customValues: xTicks, inside: true, length: 4, lineStyle: { color: '#000' } },
      axisLine: { show: false }, splitLine: { show: false } });
    const yL = yAxes.length;
    yAxes.push(valueAxis(k, 'left', lr, evens(lt), lt, minus, '#000'));
    yAxes.push(valueAxis(k, 'left', lr, odds(lt), null, minus, '#000'));
    const yR = yAxes.length;
    yAxes.push(valueAxis(k, 'right', rr, evens(rt), rt, minus1, GREEN));
    yAxes.push(valueAxis(k, 'right', rr, odds(rt), null, minus1, GREEN));
    const gridLines = xTicks.filter(v => v > startYear && v < xmax).map(v => ({ xAxis: v }))
      .concat(lt.filter(v => v > lr[0] && v < lr[1]).map(v => ({ yAxis: v })))
      .concat([{ yAxis: lr[1], lineStyle: { type: 'solid', width: 3, color: '#444' } }]);
    series.push({ type: 'line', name: 'grid' + k, xAxisIndex: k, yAxisIndex: yL, data: [[startYear, lr[0]]], symbol: 'none', lineStyle: { width: 0 }, silent: true, z: 1,
      markLine: { silent: true, symbol: ['none', 'none'], label: { show: false }, animation: false, lineStyle: { type: [2, 3], color: '#6a6a6a', width: 1 }, data: gridLines } });
    const [up, dn] = splitFill(pts, m);
    series.push({ type: 'line', name: 'above' + k, xAxisIndex: k, yAxisIndex: yL, data: up, symbol: 'none', lineStyle: { width: 0, opacity: 0 }, areaStyle: { color: RED, opacity: 1, origin: m }, silent: true, z: 2 });
    series.push({ type: 'line', name: 'below' + k, xAxisIndex: k, yAxisIndex: yL, data: dn, symbol: 'none', lineStyle: { width: 0, opacity: 0 }, areaStyle: { color: BLUE, opacity: 1, origin: m }, silent: true, z: 2 });
    series.push({ type: 'line', name: 'mean' + k, xAxisIndex: k, yAxisIndex: yL, data: [[startYear, m], [xmax, m]], symbol: 'none', lineStyle: { color: MEAN, width: 3 }, silent: true, z: 3 });
    series.push({ type: 'line', name: 'data' + k, xAxisIndex: k, yAxisIndex: yL, data: pts, symbol: 'none', lineStyle: { color: '#000', width: 1.5 }, silent: true, z: 4 });
    series.push({ type: 'line', name: legendLabel, xAxisIndex: k, yAxisIndex: yR, data: spts, symbol: 'none', lineStyle: { color: GREEN, width: 1.3 }, itemStyle: { color: GREEN }, silent: true, z: 5 });
    if (r === 0) {
      titles.push({ text: colTitles[c], left: colLeft[c] + plotW / 2 + 6, top: 16, textAlign: 'center',
        textStyle: { fontFamily: 'Lato, sans-serif', fontSize: 25, fontWeight: 'normal', color: '#000' } });
    }
    titles.push({ text: '{m|' + latBands[r] + '}   {s|(land)}', left: colLeft[c] + plotW / 2, top: rowTop[r] - 31, textAlign: 'center',
      textStyle: { fontWeight: 'normal', rich: { m: { fontFamily: "'Liberation Serif', serif", fontSize: 27, fontWeight: 'normal', color: '#000' }, s: { fontFamily: tickFont, fontSize: 24, fontWeight: 'normal', color: '#000' } } } });
    k++;
  }
  titles.push({ text: rowLabels[r], left: 39, top: rowTop[r] + 44, textAlign: 'center', textStyle: { fontFamily: 'Lato, sans-serif', fontSize: 26, fontWeight: 'normal', color: '#000' } });
}

const legendCommon = { data: [legendLabel], icon: 'rect', itemWidth: 30, itemHeight: 2, selectedMode: false, itemGap: 6,
  textStyle: { fontSize: 19, fontFamily: tickFont, color: '#222' } };
const option = {
  animation: false,
  backgroundColor: '#fff',
  title: titles,
  legend: [Object.assign({ left: 344, top: 176 }, legendCommon), Object.assign({ left: 1336, top: 176 }, legendCommon)],
  grid: grids, xAxis: xAxes, yAxis: yAxes, series: series,
  graphic: warnings.length ? [{ type: 'text', left: 10, top: 1030, style: { text: 'LEN: ' + warnings.join(' '), fill: 'red', fontSize: 14 } }] : []
};
const chart = echarts.init(document.getElementById('c'), null, { renderer: 'canvas' });
chart.setOption(option);
</script></body></html>
